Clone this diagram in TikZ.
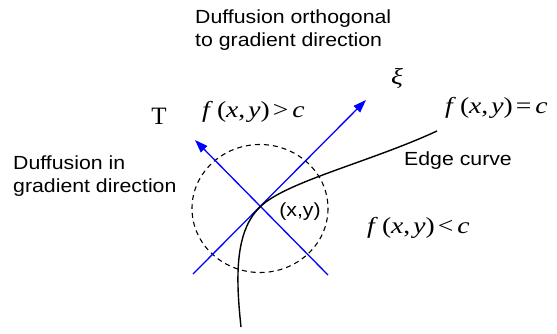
\documentclass[tikz,border=0pt]{standalone}
\usepackage{fontspec}
\setmainfont{Liberation Sans}[FakeStretch=1.12]
\newfontfamily\timesf{Liberation Serif}[FakeStretch=1.2]
\newfontfamily\timesplain{Liberation Serif}
\usetikzlibrary{arrows.meta}
\newcommand{\fxy}[1]{\textit{f}\kern4pt(\textit{x},\kern3pt\textit{y})\kern3pt#1\kern4pt\textit{c}}
\begin{document}
\begin{tikzpicture}[x=1pt,y=-1pt,
  lbl/.style={font=\fontsize{19}{23}\selectfont, inner sep=0pt, align=left},
  mth/.style={font=\timesf\fontsize{23}{24}\selectfont, inner sep=0pt},
  dir/.style={blue, line width=1.3pt},
  dirarrow/.style={dir, -{Triangle[length=13pt,width=9pt]}},
  edge/.style={black, line width=1.4pt},
  region/.style={black, line width=1.1pt, dash pattern=on 5pt off 4pt}]
\useasboundingbox (0,0) rectangle (557,333);
% points
\coordinate (P) at (260,207);
\coordinate (Ttip) at (195,140);
\coordinate (Tend) at (328,275);
\coordinate (Xtip) at (366,100);
\coordinate (Xend) at (193,274);
\coordinate (Cbot) at (241,327);
\coordinate (Cend) at (437,131);
% dashed neighbourhood
\draw[region] (260,208.5) ellipse [x radius=68, y radius=64];
% gradient directions
\draw[dirarrow] (Tend) -- (Ttip);
\draw[dirarrow] (Xend) -- (Xtip);
% edge curve
\draw[edge] (Cbot) .. controls (236,280) and (234,232) .. (P)
  .. controls (285,182) and (370,162) .. (Cend);
% labels
\node[lbl, anchor=base west] (orth) at (195,46) {Duffusion orthogonal\\to gradient direction};
\node[lbl, anchor=base west] (grad) at (13,192) {Duffusion in\\gradient direction};
\node[lbl, anchor=base west] (edgelbl) at (404,165) {Edge curve};
\node[lbl, anchor=center] (xy) at (300,212) {(x,y)};
\node[font=\timesplain\fontsize{25}{26}\selectfont, inner sep=0pt, anchor=center] (T) at (159,116) {T};
\node[mth, anchor=center] (xi) at (397,78) {\textit{ξ}};
\node[mth, anchor=base west] (fgt) at (202,117) {\fxy{>}};
\node[mth, anchor=base west] (feq) at (445,113) {\fxy{=}};
\node[mth, anchor=base west] (flt) at (367,233) {\fxy{<}};
\end{tikzpicture}
\end{document}
